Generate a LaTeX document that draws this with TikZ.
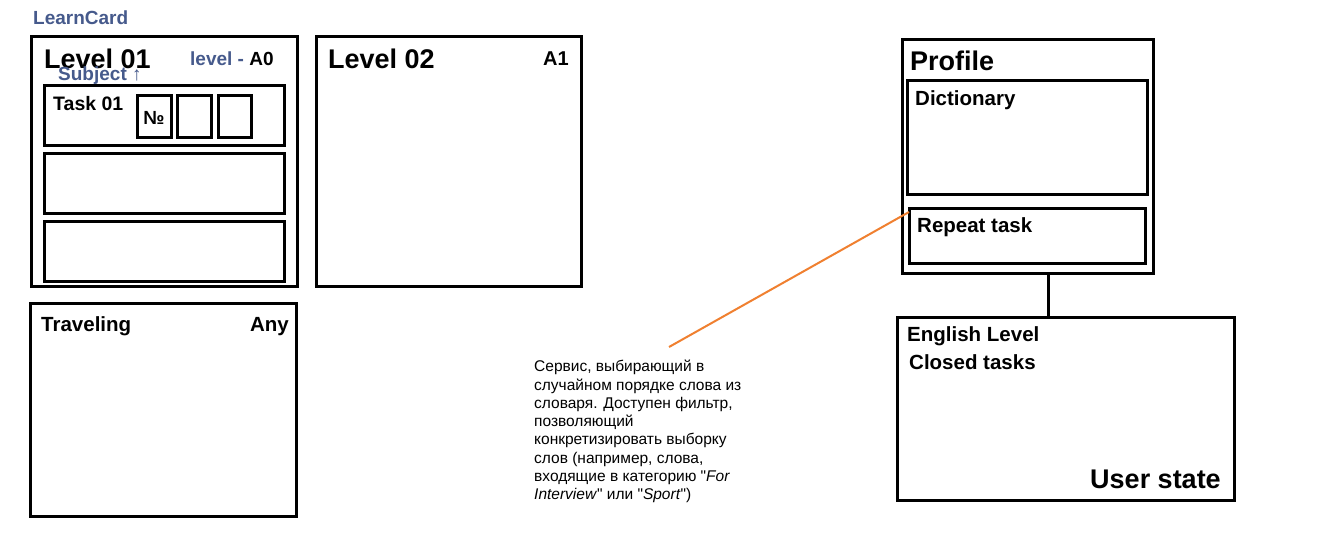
\documentclass[tikz,border=0pt]{standalone}
\usepackage{fontspec}
\setmainfont{Liberation Sans}
\usetikzlibrary{calc}
\definecolor{lcblue}{RGB}{70,90,140}
\definecolor{lcorange}{RGB}{240,128,48}
\begin{document}
\begin{tikzpicture}[x=1pt,y=-1pt,
  box/.style={draw=black,line width=2.8pt,inner sep=0pt,anchor=north west},
  lbl/.style={inner sep=0pt,anchor=base west,font=\bfseries\fontsize{20.5}{22}\selectfont},
  big/.style={inner sep=0pt,anchor=base west,font=\bfseries\fontsize{27}{30}\selectfont},
  mid/.style={inner sep=0pt,anchor=base west,font=\bfseries\fontsize{19}{21}\selectfont}]
\useasboundingbox[fill=white] (0,0) rectangle (1325,547);
% LearnCard
\node[mid,text=lcblue] (title) at (33,24) {LearnCard};
% Level 01
\node[box,minimum width=266pt,minimum height=250pt] (l1) at (30,35) {};
\node[big] (l1t) at (44,68) {Level 01};
\node[mid] (l1lv) at (190,65) {\textcolor{lcblue}{level -} A0};
\node[mid,text=lcblue] (subj) at (58,80) {Subject ↑};
\node[box,minimum width=240pt,minimum height=60pt] (t1) at (43,84) {};
\node[lbl,font=\bfseries\fontsize{19.5}{21}\selectfont] (t1t) at (53,110) {Task 01};
\node[box,minimum width=34pt,minimum height=42pt] (s1) at (136,94) {};
\node[box,minimum width=34pt,minimum height=42pt] (s2) at (176,94) {};
\node[box,minimum width=33pt,minimum height=42pt] (s3) at (217,94) {};
\node[inner sep=0pt,anchor=base,font=\bfseries\fontsize{19}{21}\selectfont] (num) at (154,124) {№};
\node[box,minimum width=240pt,minimum height=60pt] (t2) at (43,152) {};
\node[box,minimum width=240pt,minimum height=60pt] (t3) at (43,220) {};
% Level 02
\node[box,minimum width=265pt,minimum height=250pt] (l2) at (315,35) {};
\node[big] (l2t) at (328,68) {Level 02};
\node[mid,font=\bfseries\fontsize{20}{22}\selectfont] (l2lv) at (543,65) {A1};
% Traveling
\node[box,minimum width=266pt,minimum height=213pt] (tr) at (29,302) {};
\node[lbl] (trt) at (41,331) {Traveling};
\node[lbl,anchor=base east] (tra) at (289,331) {Any};
% Profile
\node[box,minimum width=251pt,minimum height=234pt] (prof) at (901,38) {};
\node[big] (proft) at (910,70) {Profile};
\node[box,minimum width=240pt,minimum height=114pt] (dict) at (906,79) {};
\node[lbl] (dictt) at (915,105) {Dictionary};
\node[box,minimum width=236pt,minimum height=55pt] (rt) at (908,207) {};
\node[lbl] (rtt) at (917,232) {Repeat task};
% User state
\node[box,minimum width=337pt,minimum height=183pt] (us) at (896,316) {};
\node[lbl] (el) at (907,341) {English Level};
\node[lbl] (ct) at (909,369) {Closed tasks};
\node[big,anchor=base east] (ust) at (1221,488) {User state};
\path (prof.south) ++(20.5,0) coordinate (pa);
\draw[line width=2.8pt] (pa) -- (pa |- us.north);
% Note
\node[inner sep=0pt,anchor=north west,align=left,font=\fontsize{15.5}{18.3}\selectfont] (note) at (534,360)
{Сервис, выбирающий в\\случайном порядке слова из\\словаря. Доступен фильтр,\\позволяющий\\конкретизировать выборку\\слов (например, слова,\\входящие в категорию \textquotedbl\textit{For}\\\textit{Interview}\textquotedbl{} или \textquotedbl\textit{Sport}\textquotedbl)};
\coordinate (nt) at ($(note.north west)+(135,-13)$);
\coordinate (rtc) at ($(rt.north west)+(1,5)$);
\draw[lcorange,line width=2pt] (nt) -- (rtc);
\end{tikzpicture}
\end{document}
